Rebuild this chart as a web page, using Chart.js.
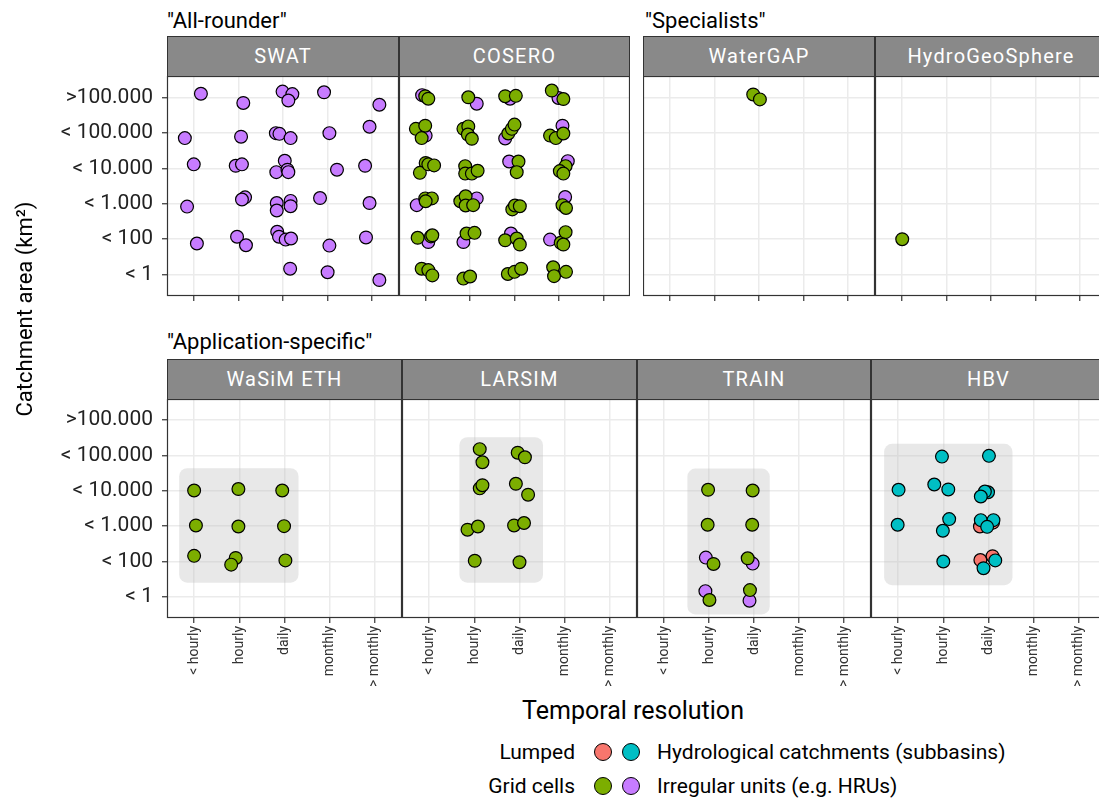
<!DOCTYPE html>
<html>
<head>
<meta charset="utf-8">
<script src="https://cdn.jsdelivr.net/npm/chart.js@4"></script>
<style>
  html, body { margin: 0; padding: 0; background: #fff; overflow: hidden; }
  body { width: 1099px; height: 798px; position: relative; font-family: Roboto, sans-serif; color: #000; }
  .abs { position: absolute; }
  .strip { position: absolute; box-sizing: border-box; border: 1px solid #333; background: #898989; color: #fff;
           font-size: 20px; letter-spacing: 1.2px; text-align: center; line-height: 38px; }
  .group { position: absolute; font-size: 22px; line-height: 24px; white-space: nowrap; }
  .dot { position: absolute; width: 16px; height: 16px; border-radius: 50%; border: 1.3px solid #000; }
  .leg { position: absolute; font-size: 21px; line-height: 24px; white-space: nowrap; }
</style>
</head>
<body>
<script>
// categories
const xCats = ['< hourly', 'hourly', 'daily', 'monthly', '> monthly'];
const yCats = ['< 1', '< 100', '< 1.000', '< 10.000', '< 100.000', '>100.000'];

// jittered points [x, y] (1 = first category)
const swatIrregular = [[1.16,6.10],[2.11,5.84],[2.99,6.16],[3.21,6.09],[3.12,5.91],[3.92,6.14],[5.16,5.79],
  [0.80,4.85],[2.06,4.89],[2.84,4.99],[2.92,4.97],[3.17,4.85],[4.04,4.99],[4.94,5.17],
  [1.00,4.11],[1.94,4.07],[2.08,4.11],[3.04,4.21],[2.85,3.89],[3.10,3.96],[3.12,3.89],[4.21,3.96],[4.84,4.07],
  [0.85,2.92],[2.15,3.18],[2.08,3.12],[2.86,3.02],[2.86,2.81],[3.17,3.08],[3.17,2.93],[3.83,3.16],[4.94,3.02],
  [1.07,1.88],[1.97,2.07],[2.17,1.83],[2.87,2.21],[2.91,2.07],[3.06,1.99],[3.18,2.02],[4.04,1.82],[4.86,2.05],
  [3.16,1.17],[4.00,1.07],[5.16,0.85]];
const coseroIrregular = [[0.92,6.06],[2.15,5.82],[2.90,5.96],[3.99,5.98],[1.00,4.92],[2.79,4.84],[4.08,5.20],
  [2.88,4.19],[4.20,4.20],[0.80,2.96],[2.15,3.15],[4.14,3.19],[1.06,1.92],[1.85,1.92],[2.92,2.16],[3.80,1.99]];
const coseroGrid = [[0.99,6.03],[1.06,5.96],[1.96,6.00],[2.79,6.03],[3.03,6.04],[3.84,6.19],[4.10,5.95],
  [0.78,5.11],[0.99,5.20],[0.91,4.85],[1.85,5.11],[1.96,5.18],[1.95,4.95],[2.04,4.83],[2.86,4.98],[2.94,5.11],[3.00,5.23],[3.80,4.92],[3.93,4.85],[4.10,4.98],
  [1.00,4.15],[0.87,3.87],[1.06,4.11],[1.19,4.08],[1.89,4.06],[1.89,3.85],[2.04,3.85],[2.17,3.93],[3.09,4.19],[3.05,3.89],[4.15,4.06],[4.02,3.92],[4.10,3.85],
  [0.99,3.15],[1.14,3.15],[1.00,3.07],[1.78,3.07],[1.90,3.21],[1.90,2.95],[2.07,2.96],[2.95,2.84],[3.01,2.95],[3.12,2.93],[4.08,2.96],[4.16,2.88],
  [0.82,2.04],[1.12,2.08],[1.15,2.11],[1.92,2.16],[2.10,2.18],[2.79,1.97],[3.05,2.02],[3.12,1.85],[4.04,1.90],[4.15,2.20],[4.10,1.85],
  [0.91,1.17],[1.06,1.13],[1.15,0.98],[1.85,0.89],[2.00,0.95],[2.85,1.02],[3.00,1.08],[3.15,1.17],[3.87,1.21],[3.89,0.96],[4.16,1.08]];
const watergapGrid = [[2.87,6.08],[3.02,5.94]];
const hgsGrid = [[1.01,2.00]];
const wasimGrid = [[1.00,4.01],[1.98,4.05],[2.95,4.01],[1.04,3.02],[1.98,2.99],[2.99,3.00],[1.00,2.16],[1.92,2.10],[1.82,1.91],[3.02,2.03]];
const larsimGrid = [[2.12,5.18],[2.18,4.81],[2.96,5.08],[3.12,4.95],[2.12,4.07],[2.18,4.16],[2.92,4.20],[3.19,3.89],
  [1.85,2.90],[2.08,2.99],[2.88,3.02],[3.10,3.09],[2.01,2.02],[3.00,1.98]];
const trainIrregular = [[1.93,2.11],[2.97,1.94],[1.92,1.16],[2.90,0.89]];
const trainGrid = [[1.98,4.03],[2.97,4.01],[1.97,3.04],[2.96,3.04],[2.10,1.93],[2.86,2.09],[2.01,0.91],[2.91,1.19]];
const hbvLumped = [[2.82,2.04],[3.09,2.15],[2.81,2.99],[3.10,3.10]];
const hbvCatchments = [[1.97,4.97],[3.01,4.99],[1.01,4.03],[1.80,4.18],[2.11,4.04],[2.99,3.96],[2.92,3.98],[2.83,3.84],
  [0.99,3.04],[2.13,3.20],[1.99,2.87],[2.83,3.17],[3.11,3.17],[2.97,2.98],[2.00,2.00],[3.15,2.03],[2.89,1.81]];

// shaded ranges [xMin, xMax, yMin, yMax]
const wasimBox = [0.67, 3.31, 1.40, 4.64];
const larsimBox = [1.67, 3.52, 1.40, 5.52];
const trainBox = [1.52, 3.35, 0.50, 4.63];
const hbvBox = [0.69, 3.53, 1.33, 5.33];

const GREEN = '#7CAE00', PURPLE = '#C77CFF', RED = '#F8766D', CYAN = '#00BFC4';

const panels = [
  { name: 'SWAT', left: 167, top: 76, width: 232, height: 220, yLabels: true, xLabels: false,
    series: [[swatIrregular, PURPLE]] },
  { name: 'COSERO', left: 399, top: 76, width: 231, height: 220, series: [[coseroIrregular, PURPLE], [coseroGrid, GREEN]] },
  { name: 'WaterGAP', left: 643, top: 76, width: 232, height: 220, series: [[watergapGrid, GREEN]] },
  { name: 'HydroGeoSphere', left: 875, top: 76, width: 232, height: 220, series: [[hgsGrid, GREEN]] },
  { name: 'WaSiM ETH', left: 167, top: 399, width: 235, height: 219, yLabels: true, xLabels: true,
    box: wasimBox, series: [[wasimGrid, GREEN]] },
  { name: 'LARSIM', left: 402, top: 399, width: 235, height: 219, xLabels: true, box: larsimBox, series: [[larsimGrid, GREEN]] },
  { name: 'TRAIN', left: 637, top: 399, width: 234, height: 219, xLabels: true, box: trainBox,
    series: [[trainIrregular, PURPLE], [trainGrid, GREEN]] },
  { name: 'HBV', left: 871, top: 399, width: 235, height: 219, xLabels: true, box: hbvBox,
    series: [[hbvLumped, RED], [hbvCatchments, CYAN]] },
];

// panel frame + shaded box
const panelDeco = {
  id: 'panelDeco',
  beforeDatasetsDraw(chart, args, opts) {
    if (!opts.box) return;
    const { ctx, scales: { x, y } } = chart;
    const [x0, x1, y0, y1] = opts.box;
    const l = x.getPixelForValue(x0), r = x.getPixelForValue(x1);
    const t = y.getPixelForValue(y1), b = y.getPixelForValue(y0);
    ctx.save();
    ctx.fillStyle = 'rgba(190,190,190,0.35)';
    ctx.beginPath();
    ctx.roundRect(l, t, r - l, b - t, 8);
    ctx.fill();
    ctx.restore();
  },
  afterDatasetsDraw(chart) {
    const { ctx, chartArea: a } = chart;
    ctx.save();
    ctx.strokeStyle = '#333';
    ctx.lineWidth = 1.2;
    ctx.strokeRect(a.left + 0.5, a.top + 0.5, a.right - a.left - 1, a.bottom - a.top - 1);
    ctx.restore();
  }
};

function noPad(s) {
  s.paddingTop = 0; s.paddingBottom = 0; s.paddingLeft = 0; s.paddingRight = 0;
}

function addDiv(cls, text, css) {
  const d = document.createElement('div');
  d.className = cls;
  d.textContent = text;
  Object.assign(d.style, css);
  document.body.appendChild(d);
  return d;
}

panels.forEach(p => {
  const padL = p.yLabels ? 140 : 0;
  const padB = p.xLabels ? 70 : 6;
  const w = p.width + padL, h = p.height + padB;
  const cv = document.createElement('canvas');
  cv.width = w; cv.height = h;
  Object.assign(cv.style, { position: 'absolute', left: (p.left - padL) + 'px', top: p.top + 'px', width: w + 'px', height: h + 'px' });
  document.body.appendChild(cv);

  addDiv('strip', p.name, { left: p.left + 'px', top: (p.top - 40) + 'px', width: p.width + 'px', height: '41px' });

  new Chart(cv, {
    type: 'scatter',
    data: {
      // later series are drawn on top (higher order = drawn first)
      datasets: p.series.map(([pts, color], i) => ({
        data: pts.map(([x, y]) => ({ x, y })),
        order: p.series.length - i,
        backgroundColor: color,
        borderColor: '#000',
        borderWidth: 1.2,
        pointRadius: 6.4,
        pointHoverRadius: 6.4,
        clip: false,
      })),
    },
    options: {
      responsive: false,
      animation: false,
      events: [],
      layout: { padding: 0, autoPadding: false },
      plugins: { legend: { display: false }, tooltip: { enabled: false }, panelDeco: { box: p.box } },
      scales: {
        x: {
          type: 'linear', min: 0.4, max: 5.6,
          afterBuildTicks: s => { s.ticks = xCats.map((c, i) => ({ value: i + 1 })); },
          afterFit: s => { s.height = padB; noPad(s); },
          border: { display: false },
          grid: { color: '#ebebeb', lineWidth: 1.5, drawTicks: true, tickLength: 5, tickColor: '#333', tickWidth: 1.2 },
          ticks: {
            display: !!p.xLabels, autoSkip: false, minRotation: 90, maxRotation: 90, padding: 3,
            color: '#333', font: { family: 'Roboto', size: 14 },
            callback: v => xCats[Math.round(v) - 1],
          },
        },
        y: {
          type: 'linear', min: 0.4, max: 6.6,
          afterBuildTicks: s => { s.ticks = yCats.map((c, i) => ({ value: i + 1 })); },
          afterFit: s => { s.width = padL; noPad(s); },
          border: { display: false },
          grid: { color: '#ebebeb', lineWidth: 1.5, drawTicks: !!p.yLabels, tickLength: 5, tickColor: '#333', tickWidth: 1.2 },
          ticks: {
            display: !!p.yLabels, padding: 9,
            color: '#222', font: { family: 'Roboto', size: 21 },
            callback: v => yCats[Math.round(v) - 1],
          },
        },
      },
    },
    plugins: [panelDeco],
  });
});

// group titles and axis titles
addDiv('group', '"All-rounder"', { left: '167px', top: '9px' });
addDiv('group', '"Specialists"', { left: '645px', top: '9px' });
addDiv('group', '"Application-specific"', { left: '167px', top: '330px' });
addDiv('abs', 'Temporal resolution', { left: '433px', width: '400px', top: '697px', textAlign: 'center', fontSize: '25px', lineHeight: '28px' });
addDiv('abs', 'Catchment area (km²)', { left: '-175px', width: '400px', top: '296px', textAlign: 'center', fontSize: '22px',
  lineHeight: '26px', transform: 'rotate(-90deg)' });

// legend
addDiv('leg', 'Lumped', { left: '375px', width: '200px', top: '740px', textAlign: 'right' });
addDiv('leg', 'Grid cells', { left: '375px', width: '200px', top: '774px', textAlign: 'right' });
addDiv('dot', '', { left: '594px', top: '743px', background: RED });
addDiv('dot', '', { left: '622px', top: '743px', background: CYAN });
addDiv('dot', '', { left: '594px', top: '777px', background: GREEN });
addDiv('dot', '', { left: '622px', top: '777px', background: PURPLE });
addDiv('leg', 'Hydrological catchments (subbasins)', { left: '657px', top: '740px' });
addDiv('leg', 'Irregular units (e.g. HRUs)', { left: '657px', top: '774px' });
</script>
</body>
</html>
